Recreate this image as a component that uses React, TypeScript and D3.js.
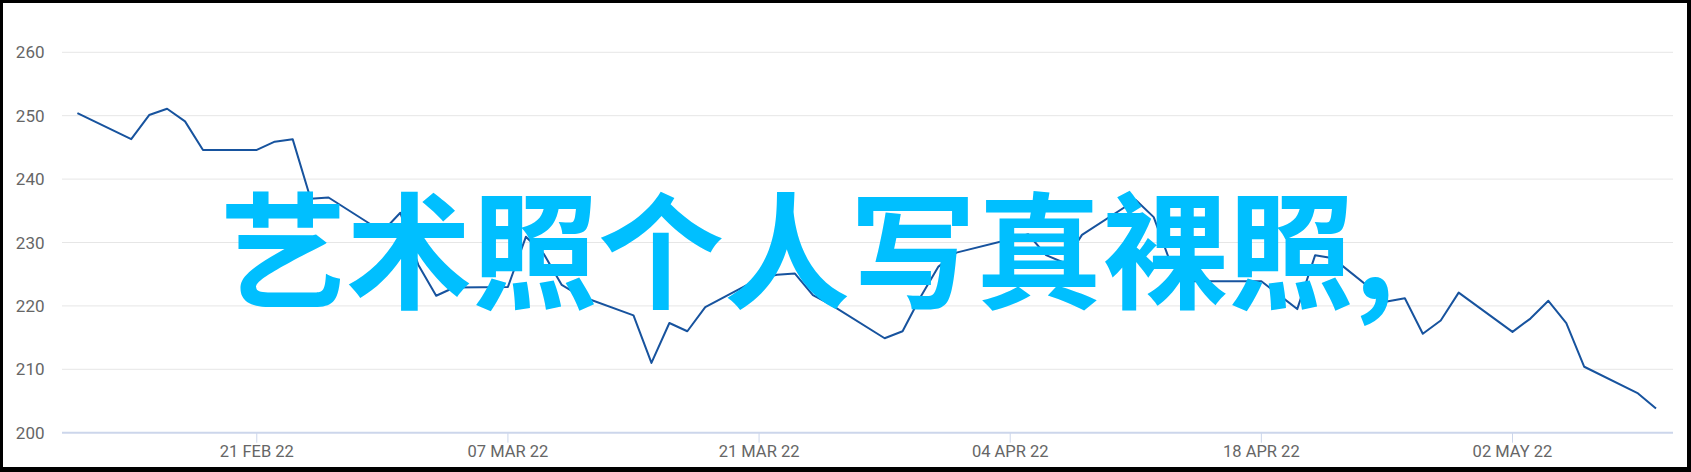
import React from "react";
import * as d3 from "d3";

const W = 1691;
const H = 472;

const dates: string[] = [
  "2022-02-11", "2022-02-14", "2022-02-15", "2022-02-16", "2022-02-17", "2022-02-18",
  "2022-02-21", "2022-02-22", "2022-02-23", "2022-02-24", "2022-02-25", "2022-02-28",
  "2022-03-01", "2022-03-02", "2022-03-03", "2022-03-04", "2022-03-07", "2022-03-08",
  "2022-03-09", "2022-03-10", "2022-03-11", "2022-03-14", "2022-03-15", "2022-03-16",
  "2022-03-17", "2022-03-18", "2022-03-21", "2022-03-22", "2022-03-23", "2022-03-24",
  "2022-03-25", "2022-03-28", "2022-03-29", "2022-03-30", "2022-03-31",
  "2022-04-01", "2022-04-04", "2022-04-05", "2022-04-06", "2022-04-07", "2022-04-08",
  "2022-04-11", "2022-04-12", "2022-04-13", "2022-04-14", "2022-04-18", "2022-04-19",
  "2022-04-20", "2022-04-21", "2022-04-22", "2022-04-25", "2022-04-26", "2022-04-27",
  "2022-04-28", "2022-04-29",
  "2022-05-02", "2022-05-03", "2022-05-04", "2022-05-05", "2022-05-06", "2022-05-09",
  "2022-05-10",
];

const values: number[] = [
  250.4, 246.3, 250.1, 251.1, 249.1, 244.6,
  244.6, 245.9, 246.3, 236.9, 237.1, 231.7,
  234.7, 226.5, 221.6, 222.9, 223.0, 230.9,
  228.2, 223.3, 221.6, 218.5, 211.0, 217.3,
  216.0, 219.8, 224.3, 224.9, 225.1, 221.7,
  220.2, 214.9, 216.0, 221.4, 226.2,
  228.4, 230.5, 231.3, 228.0, 226.8, 231.2,
  236.7, 234.0, 226.3, 223.9, 223.9, 221.7,
  219.5, 228.0, 227.5, 220.7, 221.2, 215.6,
  217.7, 222.1,
  215.9, 218.0, 220.8, 217.3, 210.4, 206.2,
  203.8,
];

const yTicks: number[] = [200, 210, 220, 230, 240, 250, 260];

const xTickDates: string[] = ["2022-02-21", "2022-03-07", "2022-03-21", "2022-04-04", "2022-04-18", "2022-05-02"];
const xTickLabels: string[] = ["21 FEB 22", "07 MAR 22", "21 MAR 22", "04 APR 22", "18 APR 22", "02 MAY 22"];

const overlayText = "艺术照个人写真裸照,";

const parse = (s: string) => new Date(s + "T00:00:00Z");

export default function App() {
  const x = d3
    .scaleUtc()
    .domain([parse("2022-02-11"), parse("2022-05-10")])
    .range([77.4, 1656]);
  const y = d3.scaleLinear().domain([200, 260]).range([432.7, 52.3]);

  const pts: [Date, number][] = dates.map((d, i) => [parse(d), values[i]]);
  const line = d3
    .line<[Date, number]>()
    .x((d) => x(d[0]))
    .y((d) => y(d[1]));

  const gridX0 = 62;
  const gridX1 = 1673;

  return (
    <div style={{ position: "absolute", left: 0, top: 0, width: W, height: H, overflow: "hidden" }}>
      <svg width={W} height={H} style={{ display: "block" }}>
        <rect x={0} y={0} width={W} height={H} fill="#000" />
        <rect x={3} y={3} width={1684} height={464} fill="#fff" />
        {yTicks.map((t) =>
          t === 200 ? null : (
            <line key={"g" + t} x1={gridX0} x2={gridX1} y1={y(t)} y2={y(t)} stroke="#e6e6e6" strokeWidth={1} />
          )
        )}
        {xTickDates.map((d) => (
          <line key={"t" + d} x1={x(parse(d))} x2={x(parse(d))} y1={y(200)} y2={y(200) + 10} stroke="#ccd6eb" strokeWidth={1} />
        ))}
        <line x1={gridX0} x2={gridX1} y1={y(200)} y2={y(200)} stroke="#ccd6eb" strokeWidth={2} />
        {yTicks.map((t) => (
          <text
            key={"yl" + t}
            x={44.5}
            y={y(t) + 6}
            textAnchor="end"
            fontFamily="Roboto, 'Liberation Sans', sans-serif"
            fontSize={17}
            fill="#666666"
          >
            {t}
          </text>
        ))}
        {xTickDates.map((d, i) => (
          <text
            key={"xl" + d}
            x={x(parse(d))}
            y={456.5}
            textAnchor="middle"
            fontFamily="Roboto, 'Liberation Sans', sans-serif"
            fontSize={16.5}
            fill="#666666"
          >
            {xTickLabels[i]}
          </text>
        ))}
        <path d={line(pts) || ""} fill="none" stroke="#17539e" strokeWidth={2} strokeLinejoin="round" />
        <text
          x={220}
          y={299}
          fontFamily="'Noto Sans CJK SC', sans-serif"
          fontWeight={700}
          fontSize={126}
          fill="#00bfff"
        >
          {overlayText}
        </text>
      </svg>
    </div>
  );
}
